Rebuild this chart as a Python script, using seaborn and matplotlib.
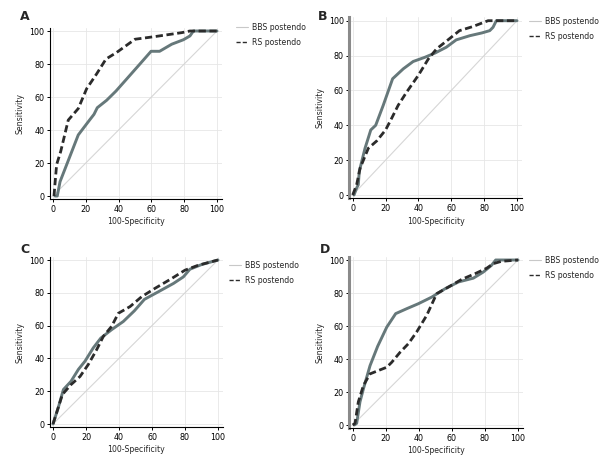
"""
plot.py
ROC curves (BBS postendo vs RS postendo) in four panels A-D.
"""

import matplotlib
matplotlib.use("Agg")
import matplotlib.pyplot as plt
from matplotlib.lines import Line2D
import pandas as pd
import seaborn as sns

# ------------------------------------------------------------------------------
# Data: 100-Specificity (x) vs Sensitivity (y)
# ------------------------------------------------------------------------------
A_BBS_X = [1.2, 2.6, 4.3, 8.3, 15.4, 21.5, 25, 27, 32.7, 38.4, 45, 53, 59.8, 65, 72.4, 79.5, 83.5, 85.6, 100]
A_BBS_Y = [0, 0, 8.7, 18.9, 37, 45, 49.5, 53.5, 58, 63.6, 71, 80, 87.7, 87.7, 92, 94.7, 97, 100, 100]
A_RS_X = [0.6, 2.2, 4.7, 9.3, 15.4, 20.5, 26.6, 32.3, 38.8, 50, 62, 78.5, 83.5, 100]
A_RS_Y = [0, 19, 27, 46, 53, 65, 74, 83, 87, 95, 96.6, 99, 100, 100]

B_BBS_X = [0.8, 2.4, 3.4, 4, 7.5, 11, 14, 18.6, 24.3, 30.8, 36.8, 43.9, 50, 57, 63, 71.3, 78.7, 83.4, 85.4, 87.4, 100]
B_BBS_Y = [0, 4, 5.9, 13.5, 26.8, 37.3, 40, 51.5, 66.7, 72.4, 76.6, 79, 81.4, 84.8, 89, 91.4, 93, 94.3, 96.2, 100, 100]
B_RS_X = [0, 2.4, 4.5, 9.5, 14.6, 20, 23.7, 27.7, 32.8, 39.9, 46, 51, 58, 65, 73, 82.4, 100]
B_RS_Y = [0, 5.9, 15.4, 26.8, 31, 37.3, 44, 51.5, 59, 68.6, 78, 83.8, 89, 94.3, 96.6, 100, 100]

C_BBS_X = [0, 3.2, 6.3, 10.9, 15.4, 19.4, 24.4, 29, 35.5, 42.6, 49.3, 55.4, 63.8, 73, 79, 83, 90, 100]
C_BBS_Y = [0, 10, 21, 26, 33.3, 38.3, 46.4, 52.4, 57.5, 62.5, 69, 76, 80.6, 85.7, 89.7, 94.4, 97.2, 100]
C_RS_X = [0, 5.7, 10.9, 16.4, 21.4, 26.5, 30.5, 35.5, 39.6, 46.7, 53.7, 61.8, 71.9, 80, 88, 100]
C_RS_Y = [0, 18, 24, 29, 36.3, 45.4, 53.4, 59.5, 67.5, 71.6, 77.6, 82.7, 88.7, 93.8, 96.8, 100]

D_BBS_X = [1, 2.4, 4.4, 6.5, 10.5, 15.1, 20.6, 26, 32.7, 39.7, 47.8, 55.9, 64, 73, 79, 84, 86.5, 100]
D_BBS_Y = [0, 1, 14, 22, 36, 47.7, 59.3, 67.5, 70.5, 73.5, 77.5, 82.6, 86.7, 89, 92.7, 96.8, 100, 100]
D_RS_X = [0, 1.4, 3.4, 6.5, 10.5, 15.5, 20.6, 23.6, 28.6, 33.7, 38.7, 44.8, 50.8, 57.9, 66, 74, 81, 85.1, 90, 100]
D_RS_Y = [0, 1, 14, 24, 31, 33, 35, 38, 44, 49.3, 56.4, 66.5, 79.6, 83.6, 88.3, 91.7, 95, 97.8, 99.2, 100]

PANELS = ["A", "B", "C", "D"]
SERIES = {
    "A": (A_BBS_X, A_BBS_Y, A_RS_X, A_RS_Y),
    "B": (B_BBS_X, B_BBS_Y, B_RS_X, B_RS_Y),
    "C": (C_BBS_X, C_BBS_Y, C_RS_X, C_RS_Y),
    "D": (D_BBS_X, D_BBS_Y, D_RS_X, D_RS_Y),
}
LEGEND_LABELS = ["BBS postendo", "RS postendo"]
TICKS = [0, 20, 40, 60, 80, 100]

# ------------------------------------------------------------------------------
# Layout: pixel anchors of data (0, 100) on each panel, figure is 612 x 465 px
# ------------------------------------------------------------------------------
W, H = 612, 465
XLIM = (-2, 103)
YLIM = (-2, 102)
ANCHORS = {  # x0px, x100px, y0px, y100px
    "A": (53, 217, 196, 31),
    "B": (352.7, 517, 195, 20.7),
    "C": (53, 218, 424, 260),
    "D": (352.7, 518, 425, 260),
}
LETTER_POS = {"A": (20, 17), "B": (318, 17), "C": (20, 249), "D": (320, 249)}
LEGEND_POS = {"A": (236, 23), "B": (529, 17), "C": (229, 261), "D": (529, 256)}

BBS_COLOR = "#66787a"
RS_COLOR = "#2b2b2b"

sns.set_theme(style="ticks")
plt.rcParams["font.family"] = ["DejaVu Sans"]
plt.rcParams["font.size"] = 5.5

fig = plt.figure(figsize=(W / 100, H / 100), dpi=100)

for key in PANELS:
    x0, x100, y0, y100 = ANCHORS[key]
    sx = (x100 - x0) / 100.0
    sy = (y0 - y100) / 100.0
    left = x0 + XLIM[0] * sx
    right = x0 + XLIM[1] * sx
    bottom = y0 - YLIM[0] * sy
    top = y0 - YLIM[1] * sy
    ax = fig.add_axes([left / W, 1 - bottom / H, (right - left) / W, (bottom - top) / H])

    bx, by, rx, ry = SERIES[key]
    bbs = pd.DataFrame({"x": bx, "y": by})
    rs = pd.DataFrame({"x": rx, "y": ry})

    ax.plot([0, 100], [0, 100], color="#d6d6d6", lw=0.8, zorder=1)
    sns.lineplot(data=bbs, x="x", y="y", ax=ax, sort=False, estimator=None,
                 color=BBS_COLOR, lw=2.1, zorder=3)
    sns.lineplot(data=rs, x="x", y="y", ax=ax, sort=False, estimator=None,
                 color=RS_COLOR, lw=2.0, dashes=(2.6, 1.3), zorder=4)

    ax.set_xlim(*XLIM)
    ax.set_ylim(*YLIM)
    ax.set_xticks(TICKS)
    ax.set_yticks(TICKS)
    ax.grid(True, color="#e6e6e6", lw=0.6)
    ax.set_axisbelow(True)
    sns.despine(ax=ax)
    for side in ["left", "bottom"]:
        ax.spines[side].set_color("black")
        ax.spines[side].set_linewidth(0.8)
    if key in ("B", "D"):
        ax.spines["left"].set_color("#8a8a8a")
        ax.spines["left"].set_linewidth(2.2)
    ax.tick_params(axis="both", length=2.5, width=0.7, pad=1.5, labelsize=5.8, colors="black")
    ax.set_xlabel("100-Specificity", fontsize=5.6, labelpad=2.5)
    ax.set_ylabel("Sensitivity", fontsize=5.6, labelpad=3)

    lx, ly = LETTER_POS[key]
    fig.text(lx / W, 1 - ly / H, key, fontsize=9, fontweight="bold", ha="left", va="center")

    handles = [
        Line2D([], [], color="#c8c8c8", lw=0.8),
        Line2D([], [], color=RS_COLOR, lw=1.0, ls=(0, (3, 1.5))),
    ]
    gx, gy = LEGEND_POS[key]
    ax.legend(handles, LEGEND_LABELS, loc="upper left", bbox_to_anchor=(gx / W, 1 - gy / H),
              bbox_transform=fig.transFigure, frameon=False, fontsize=5.6,
              handlelength=1.5, handletextpad=0.6, labelspacing=0.75,
              borderpad=0, borderaxespad=0)

fig.savefig("out.png", dpi=100)
